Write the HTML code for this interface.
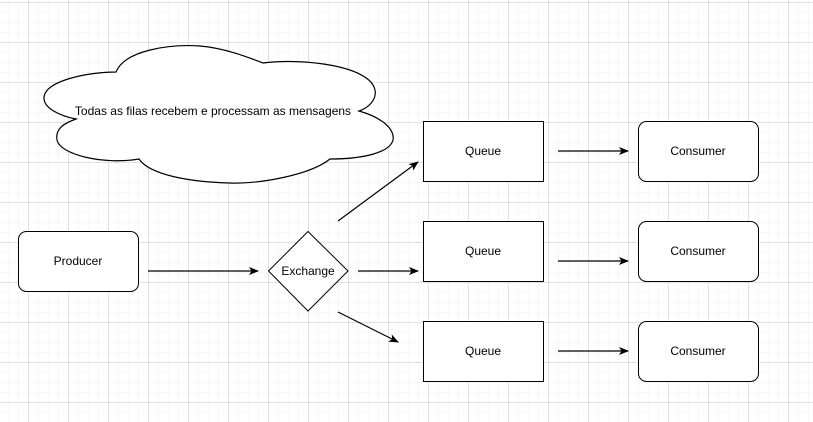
<!DOCTYPE html>
<html><head><meta charset="utf-8"><style>
body{margin:0;background:#fff}
svg{display:block}
text{font-family:"Liberation Sans",sans-serif;font-size:12px;fill:#000}
</style></head><body>
<svg width="813" height="422" viewBox="0 0 813 422" xmlns="http://www.w3.org/2000/svg">
<defs>
<pattern id="g1" width="10" height="10" patternUnits="userSpaceOnUse" x="8" y="2">
<path d="M0 0H10M0 0V10" stroke="#f0f0f0" stroke-width="1" fill="none"/>
</pattern>
<pattern id="g2" width="40" height="40" patternUnits="userSpaceOnUse" x="28" y="2">
<path d="M0 0.5H40M0.5 0V40" stroke="#e0e0e0" stroke-width="1" fill="none"/>
</pattern>
<marker id="a" markerWidth="10" markerHeight="8" refX="9" refY="4" orient="auto" markerUnits="userSpaceOnUse">
<path d="M0,0 L10,4 L0,8 L2.5,4 Z" fill="#000"/>
</marker>
</defs>
<rect width="813" height="422" fill="url(#g1)"/>
<rect width="813" height="422" fill="url(#g2)"/>
<path d="M116,72 C125,50 170,44 200,46 C225,48 250,58 263,63 C300,58 370,65 375,90 C377,100 368,108 359,111 C380,117 395,128 393,140 C390,152 365,159 330,159 C310,175 260,184 230,183 C190,182 150,175 139,159 C105,165 60,155 57,140 C55,128 65,123 76,119 C60,116 43,108 44,97 C46,80 90,72 116,72 Z" fill="#fff" stroke="#000" stroke-width="1.2"/>
<text x="213" y="115" text-anchor="middle">Todas as filas recebem e processam as mensagens</text>
<rect x="18.5" y="231.5" width="120" height="60" rx="8" fill="#fff" stroke="#000"/>
<text x="78" y="265" text-anchor="middle">Producer</text>
<path d="M308,231.5 L348,271 L308,311 L268.5,271 Z" fill="#fff" stroke="#000"/>
<text x="308" y="275" text-anchor="middle">Exchange</text>
<g fill="#fff" stroke="#000">
<rect x="423.5" y="121.5" width="120" height="60"/>
<rect x="423.5" y="221.5" width="120" height="60"/>
<rect x="423.5" y="321.5" width="120" height="60"/>
<rect x="638.5" y="121.5" width="120" height="60" rx="8"/>
<rect x="638.5" y="221.5" width="120" height="60" rx="8"/>
<rect x="638.5" y="321.5" width="120" height="60" rx="8"/>
</g>
<text x="483" y="155" text-anchor="middle">Queue</text>
<text x="483" y="255" text-anchor="middle">Queue</text>
<text x="483" y="355" text-anchor="middle">Queue</text>
<text x="698" y="155" text-anchor="middle">Consumer</text>
<text x="698" y="255" text-anchor="middle">Consumer</text>
<text x="698" y="355" text-anchor="middle">Consumer</text>
<g stroke="#000" stroke-width="1.2" marker-end="url(#a)">
<line x1="148" y1="271" x2="258" y2="271"/>
<line x1="358" y1="271" x2="418" y2="271"/>
<line x1="338" y1="221" x2="418" y2="162"/>
<line x1="338" y1="312" x2="398" y2="342"/>
<line x1="558" y1="151" x2="628" y2="151"/>
<line x1="558" y1="261" x2="628" y2="261"/>
<line x1="558" y1="351" x2="628" y2="351"/>
</g>
</svg>
</body></html>
